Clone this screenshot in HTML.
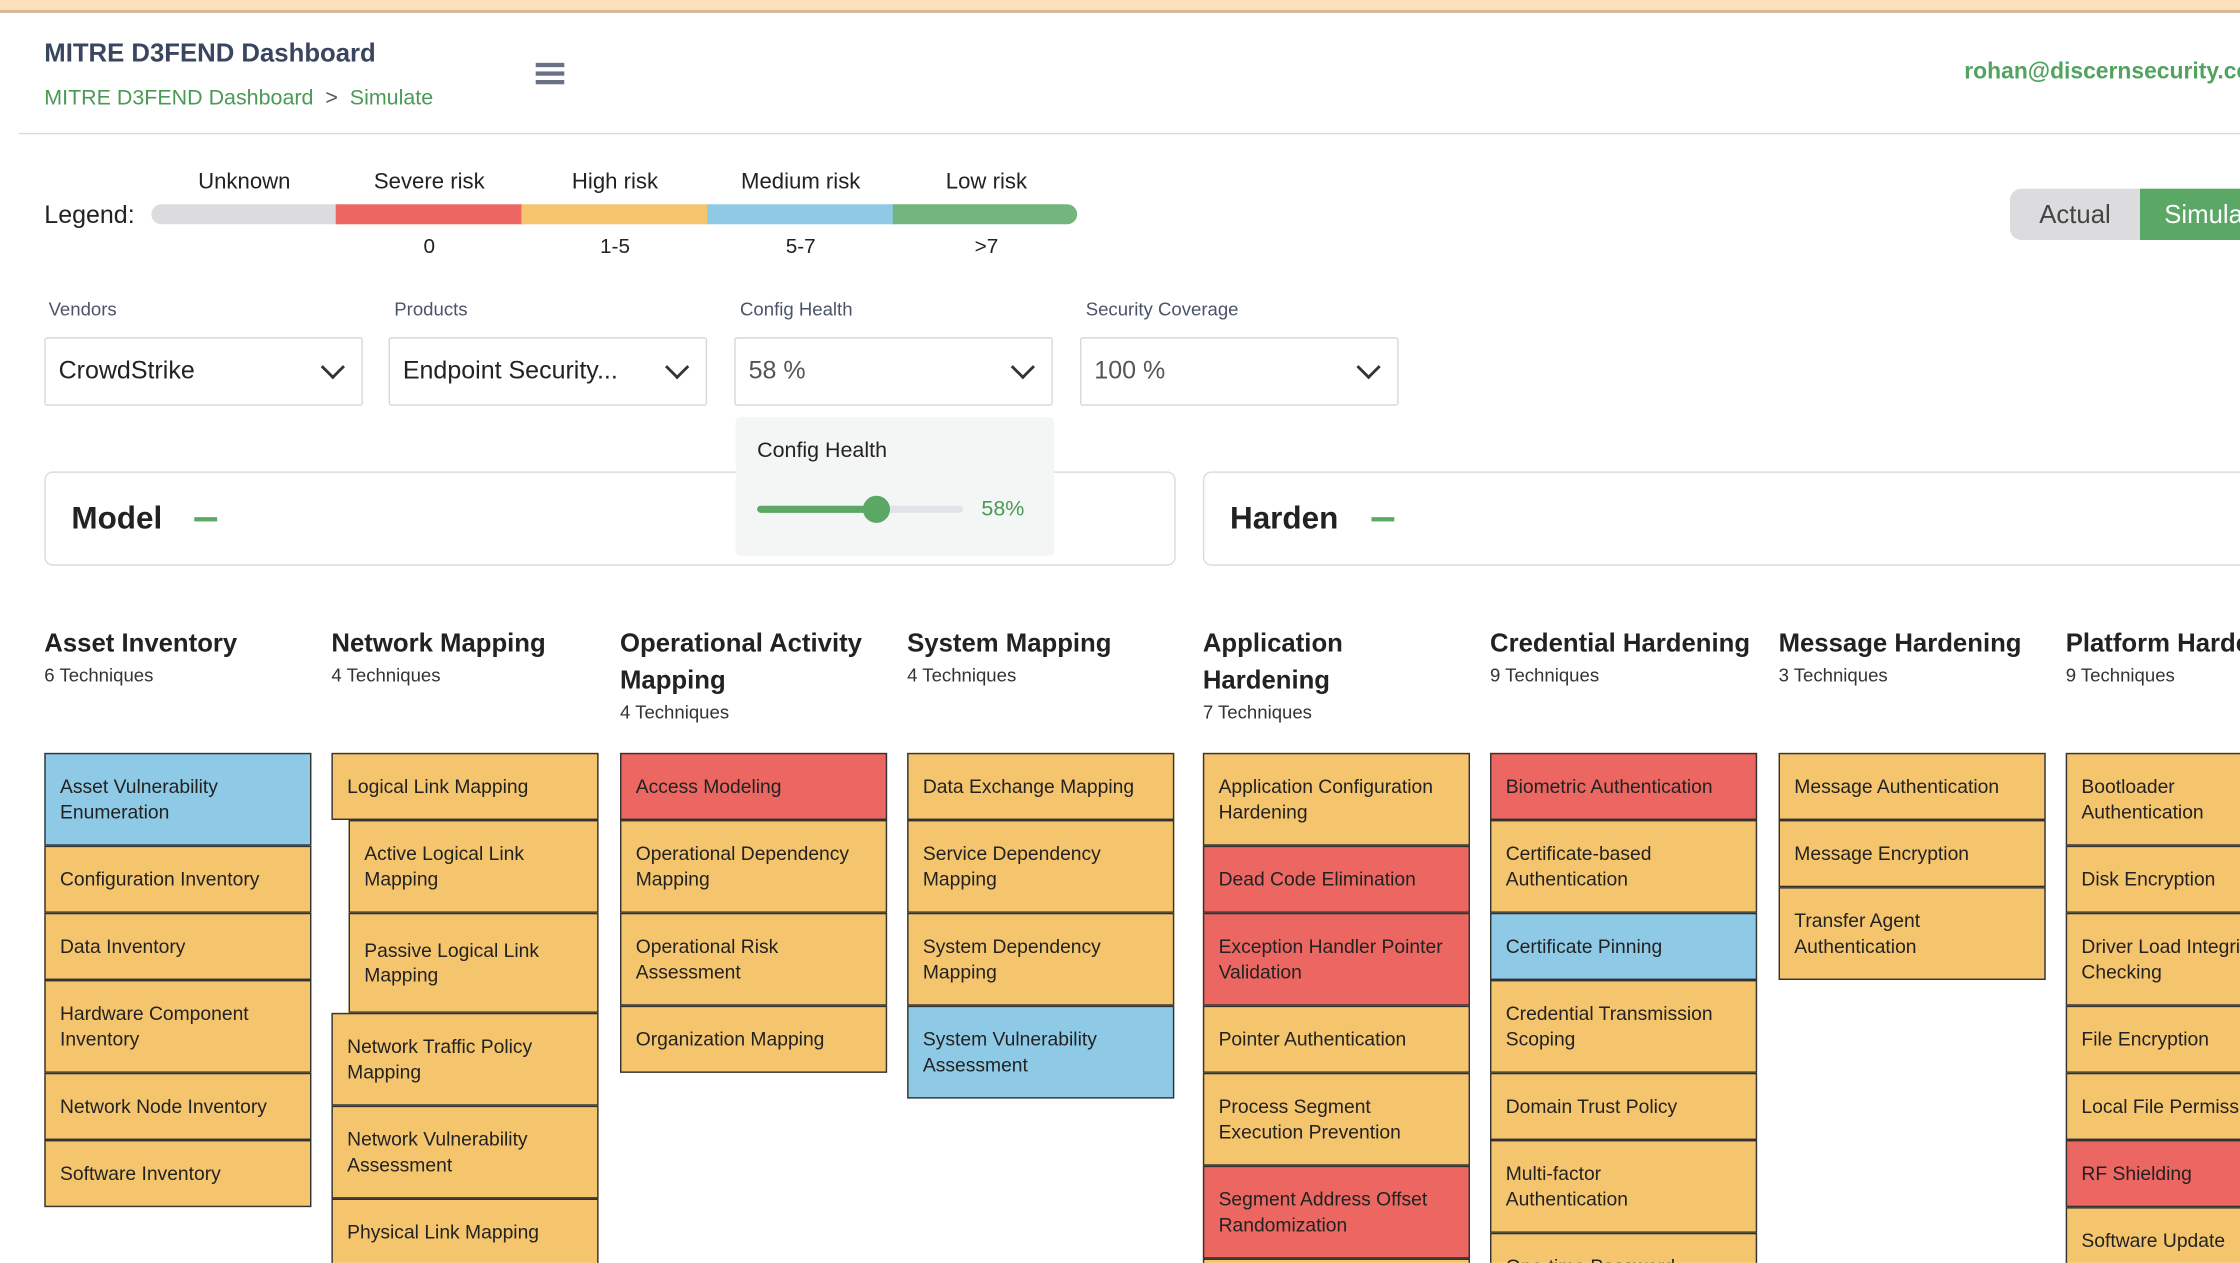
<!DOCTYPE html>
<html><head><meta charset="utf-8">
<style>
html,body{margin:0;padding:0;background:#fff;}
body{width:2240px;height:1262px;overflow:hidden;position:relative;}
#root{position:absolute;left:0;top:0;width:1568px;height:884px;transform:scale(1.4285714);transform-origin:0 0;font-family:"Liberation Sans",sans-serif;color:#222;overflow:hidden;}
.abs{position:absolute;}
.topbar{left:0;top:0;width:1568px;height:7px;background:#fae0bb;border-bottom:2px solid #d5b894;}
.title{left:31px;top:27px;font-size:18px;font-weight:bold;color:#3a4660;}
.crumb{left:31px;top:60px;font-size:15px;color:#4a9a55;}
.hline{left:13px;top:93px;width:1560px;height:1px;background:#dcdcdc;}
.email{left:1375px;top:42px;font-size:16px;color:#52a260;font-weight:bold;white-space:nowrap;}
.lbl{font-size:15.5px;color:#222;}
.seg{top:143px;height:14px;}
.flabel{font-size:13px;color:#4a5468;}
.sel{width:223px;height:48px;box-sizing:border-box;border:1px solid #d8d8d8;border-radius:2px;font-size:17.5px;padding:12px 9px;}
.chev{position:absolute;right:14px;top:14px;width:10px;height:10px;border-right:2px solid #333;border-bottom:2px solid #333;transform:rotate(45deg);}
.panel{height:66px;box-sizing:border-box;border:1px solid #dcdcdc;border-radius:6px;}
.ptitle{font-size:22px;font-weight:bold;color:#222;}
.col{width:187px;}
.ch{font-size:18px;font-weight:bold;color:#222;line-height:26px;}
.cs{font-size:13px;color:#333;margin-top:2px;}
.cells{position:absolute;top:527px;}
.cell{box-sizing:border-box;border:1.5px solid #333;font-size:13.5px;line-height:17.5px;padding:0 10px;display:flex;align-items:center;color:#222;white-space:pre-line;}
.y{background:#f5c56e}.r{background:#ec6761}.b{background:#8ecae6}
</style></head><body>
<div id="root">
<div class="abs topbar"></div>
<div class="abs title">MITRE D3FEND Dashboard</div>
<div class="abs crumb"><span>MITRE D3FEND Dashboard</span>&nbsp; <span style="color:#555">&gt;</span> &nbsp;<span>Simulate</span></div>
<div class="abs" style="left:375px;top:44px;width:20px;">
<div style="height:2.5px;background:#6b7286;margin-bottom:3.5px"></div><div style="height:2.5px;background:#6b7286;margin-bottom:3.5px"></div><div style="height:2.5px;background:#6b7286"></div></div>
<div class="abs email">rohan@discernsecurity.com</div>
<div class="abs hline"></div>

<div class="abs lbl" style="left:31px;top:140px;font-size:17.5px">Legend:</div>
<div class="abs seg" style="left:106px;width:130px;background:#dcdcdf;border-radius:7px 0 0 7px"></div>
<div class="abs seg" style="left:235px;width:131px;background:#ec6761"></div>
<div class="abs seg" style="left:365px;width:131px;background:#f5c56e"></div>
<div class="abs seg" style="left:495px;width:131px;background:#8ecae6"></div>
<div class="abs seg" style="left:625px;width:129px;background:#73b57d;border-radius:0 7px 7px 0"></div>
<div class="abs lbl" style="left:106px;top:119px;width:130px;text-align:center">Unknown</div>
<div class="abs lbl" style="left:235px;top:119px;width:131px;text-align:center">Severe risk</div>
<div class="abs lbl" style="left:365px;top:119px;width:131px;text-align:center">High risk</div>
<div class="abs lbl" style="left:495px;top:119px;width:131px;text-align:center">Medium risk</div>
<div class="abs lbl" style="left:625px;top:119px;width:131px;text-align:center">Low risk</div>
<div class="abs lbl" style="left:235px;top:165px;width:131px;text-align:center;font-size:14.5px">0</div>
<div class="abs lbl" style="left:365px;top:165px;width:131px;text-align:center;font-size:14.5px">1-5</div>
<div class="abs lbl" style="left:495px;top:165px;width:131px;text-align:center;font-size:14.5px">5-7</div>
<div class="abs lbl" style="left:625px;top:165px;width:131px;text-align:center;font-size:14.5px">&gt;7</div>

<div class="abs" style="left:1407px;top:132px;width:200px;height:36px;border-radius:8px;overflow:hidden;display:flex;font-size:18px;">
<div style="width:91px;background:#dcdcdf;color:#444;text-align:center;line-height:36px">Actual</div>
<div style="flex:1;background:#5aa766;color:#fff;padding-left:17px;line-height:36px">Simulate</div></div>

<div class="abs flabel" style="left:34px;top:209px">Vendors</div>
<div class="abs flabel" style="left:276px;top:209px">Products</div>
<div class="abs flabel" style="left:518px;top:209px">Config Health</div>
<div class="abs flabel" style="left:760px;top:209px">Security Coverage</div>
<div class="abs sel" style="left:31px;top:236px">CrowdStrike<span class="chev"></span></div>
<div class="abs sel" style="left:272px;top:236px">Endpoint Security...<span class="chev"></span></div>
<div class="abs sel" style="left:514px;top:236px;color:#555">58 %<span class="chev"></span></div>
<div class="abs sel" style="left:756px;top:236px;color:#555">100 %<span class="chev"></span></div>

<div class="abs panel" style="left:31px;top:330px;width:792px">
<span class="abs ptitle" style="left:18px;top:19px">Model</span>
<span class="abs" style="left:104px;top:31px;width:16px;height:2.5px;background:#5aa766"></span></div>
<div class="abs panel" style="left:842px;top:330px;width:800px">
<span class="abs ptitle" style="left:18px;top:19px">Harden</span>
<span class="abs" style="left:117px;top:31px;width:16px;height:2.5px;background:#5aa766"></span></div>

<div class="abs" style="left:515px;top:292px;width:223px;height:97px;background:#f4f6f5;border-radius:3px">
<div class="abs" style="left:15px;top:15px;font-size:15px">Config Health</div>
<div class="abs" style="left:15px;top:62px;width:144px;height:5px;background:#e1e3e6;border-radius:3px"></div>
<div class="abs" style="left:15px;top:62px;width:84px;height:5px;background:#5aa766;border-radius:3px"></div>
<div class="abs" style="left:89px;top:55px;width:19px;height:19px;background:#5aa766;border-radius:50%"></div>
<div class="abs" style="left:172px;top:56px;font-size:15px;color:#4a9a55">58%</div>
</div>

<div id="cols"></div>
</div>
<script>
const colX=[31,232,434,635,842,1043,1245,1446];
const titles=[["Asset Inventory"],["Network Mapping"],["Operational Activity","Mapping"],["System Mapping"],["Application","Hardening"],["Credential Hardening"],["Message Hardening"],["Platform Hardening"]];
const counts=["6 Techniques","4 Techniques","4 Techniques","4 Techniques","7 Techniques","9 Techniques","3 Techniques","9 Techniques"];
// [name, risk, indent]
const techs=[
[["Asset Vulnerability\nEnumeration","b"],["Configuration Inventory","y"],["Data Inventory","y"],["Hardware Component\nInventory","y"],["Network Node Inventory","y"],["Software Inventory","y"]],
[["Logical Link Mapping","y"],["Active Logical Link\nMapping","y",1],["Passive Logical Link\nMapping","y",1],["Network Traffic Policy\nMapping","y"],["Network Vulnerability\nAssessment","y"],["Physical Link Mapping","y"]],
[["Access Modeling","r"],["Operational Dependency\nMapping","y"],["Operational Risk\nAssessment","y"],["Organization Mapping","y"]],
[["Data Exchange Mapping","y"],["Service Dependency\nMapping","y"],["System Dependency\nMapping","y"],["System Vulnerability\nAssessment","b"]],
[["Application Configuration\nHardening","y"],["Dead Code Elimination","r"],["Exception Handler Pointer\nValidation","r"],["Pointer Authentication","y"],["Process Segment\nExecution Prevention","y"],["Segment Address Offset\nRandomization","r"],["Stack Frame Canary Validation","y"]],
[["Biometric Authentication","r"],["Certificate-based\nAuthentication","y"],["Certificate Pinning","b"],["Credential Transmission\nScoping","y"],["Domain Trust Policy","y"],["Multi-factor\nAuthentication","y"],["One-time Password","y"]],
[["Message Authentication","y"],["Message Encryption","y"],["Transfer Agent\nAuthentication","y"]],
[["Bootloader\nAuthentication","y"],["Disk Encryption","y"],["Driver Load Integrity\nChecking","y"],["File Encryption","y"],["Local File Permissions","y"],["RF Shielding","r"],["Software Update","y"]]
];
const root=document.getElementById('cols');
const slug=s=>s.toLowerCase().replace(/[^a-z0-9]+/g,'-');
titles.forEach((t,i)=>{
  const h=document.createElement('div');
  h.className='abs col';
  h.style.left=colX[i]+'px';h.style.top='437px';
  
  
  h.innerHTML='<div class="ch">'+t.join('<br>')+'</div><div class="cs">'+counts[i]+'</div>';
  root.appendChild(h);
  const c=document.createElement('div');
  c.className='cells';
  c.style.left=colX[i]+'px';
  
  
  techs[i].forEach(tc=>{
    const d=document.createElement('div');
    d.className='cell '+tc[1];
    const ind=tc[2]?12:0;
    const two=tc[0].indexOf('\n')>=0;
    d.style.marginLeft=ind+'px';
    d.style.width=(187-ind)+'px';
    d.style.height=(two?(ind&&tc[0].startsWith('Passive')?70:65):47)+'px';
    d.textContent=tc[0];
    
    
    c.appendChild(d);
  });
  root.appendChild(c);
});
</script>
</body></html>
